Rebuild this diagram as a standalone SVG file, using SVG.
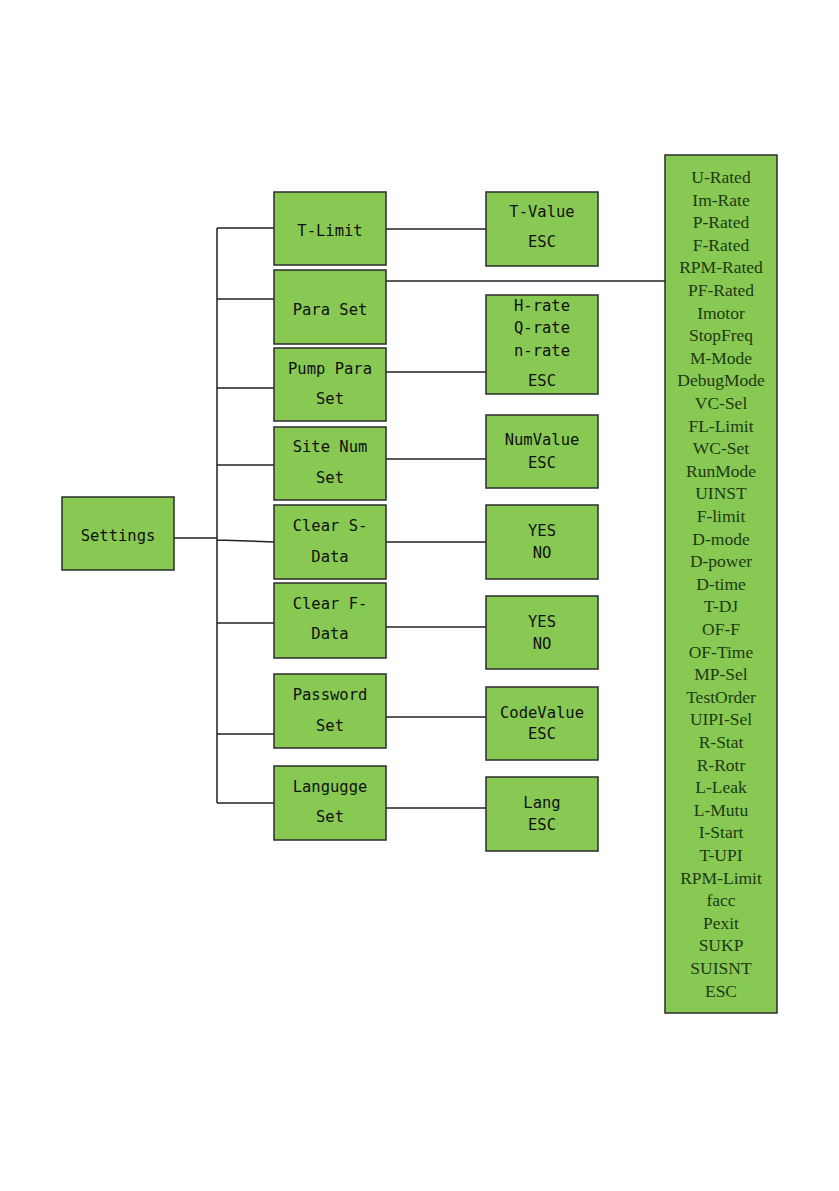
<svg xmlns="http://www.w3.org/2000/svg" width="839" height="1191" viewBox="0 0 839 1191">
<style>
.box{fill:#88c953;stroke:#2b2b2b;stroke-width:1.5}
.t{font-family:"DejaVu Sans Mono","Liberation Mono",monospace;font-size:15.5px;fill:#111;text-anchor:middle;dominant-baseline:central}
.s{font-family:"Liberation Serif","DejaVu Serif",serif;font-size:17.5px;fill:#1e3a12;text-anchor:middle;dominant-baseline:central}
.c{stroke:#222;stroke-width:1.5;fill:none}
</style>
<rect width="839" height="1191" fill="#fff"/>
<g id="connectors">
<path class="c" d="M174 538H217M217 228V803M217 228H274M217 299H274M217 388H274M217 465H274M217 540L274 542M217 623H274M217 734H274M217 803H274"/>
<path class="c" d="M386 229H486M386 281H665M386 372H486M386 459H486M386 542H486M386 627H486M386 717H486M386 808H486"/>
</g>
<g id="settings"><rect class="box" x="62" y="497" width="112" height="73"/><text class="t" x="118" y="536">Settings</text></g>
<g id="t-limit"><rect class="box" x="274" y="192" width="112" height="73"/><text class="t" x="330" y="231">T-Limit</text></g>
<g id="para-set"><rect class="box" x="274" y="270" width="112" height="74"/><text class="t" x="330" y="310">Para Set</text></g>
<g id="pump-para-set"><rect class="box" x="274" y="348" width="112" height="73"/><text class="t" x="330" y="369">Pump Para</text><text class="t" x="330" y="399">Set</text></g>
<g id="site-num-set"><rect class="box" x="274" y="427" width="112" height="73"/><text class="t" x="330" y="447">Site Num</text><text class="t" x="330" y="478">Set</text></g>
<g id="clear-s-data"><rect class="box" x="274" y="505" width="112" height="74"/><text class="t" x="330" y="526">Clear S-</text><text class="t" x="330" y="557">Data</text></g>
<g id="clear-f-data"><rect class="box" x="274" y="583" width="112" height="75"/><text class="t" x="330" y="604">Clear F-</text><text class="t" x="330" y="634">Data</text></g>
<g id="password-set"><rect class="box" x="274" y="674" width="112" height="74"/><text class="t" x="330" y="695">Password</text><text class="t" x="330" y="726">Set</text></g>
<g id="langugge-set"><rect class="box" x="274" y="766" width="112" height="74"/><text class="t" x="330" y="787">Langugge</text><text class="t" x="330" y="817">Set</text></g>
<g id="t-value"><rect class="box" x="486" y="192" width="112" height="74"/><text class="t" x="542" y="212">T-Value</text><text class="t" x="542" y="242">ESC</text></g>
<g id="rates"><rect class="box" x="486" y="295" width="112" height="99"/><text class="t" x="542" y="306">H-rate</text><text class="t" x="542" y="328">Q-rate</text><text class="t" x="542" y="351">n-rate</text><text class="t" x="542" y="381">ESC</text></g>
<g id="numvalue"><rect class="box" x="486" y="415" width="112" height="73"/><text class="t" x="542" y="440">NumValue</text><text class="t" x="542" y="463">ESC</text></g>
<g id="yes-no-s"><rect class="box" x="486" y="505" width="112" height="74"/><text class="t" x="542" y="531">YES</text><text class="t" x="542" y="553">NO</text></g>
<g id="yes-no-f"><rect class="box" x="486" y="596" width="112" height="73"/><text class="t" x="542" y="622">YES</text><text class="t" x="542" y="644">NO</text></g>
<g id="codevalue"><rect class="box" x="486" y="687" width="112" height="73"/><text class="t" x="542" y="713">CodeValue</text><text class="t" x="542" y="734">ESC</text></g>
<g id="lang"><rect class="box" x="486" y="777" width="112" height="74"/><text class="t" x="542" y="803">Lang</text><text class="t" x="542" y="825">ESC</text></g>
<g id="para-list"><rect class="box" x="665" y="155" width="112" height="858"/>
<text class="s" x="721" y="177">U-Rated</text>
<text class="s" x="721" y="199.6">Im-Rate</text>
<text class="s" x="721" y="222.2">P-Rated</text>
<text class="s" x="721" y="244.8">F-Rated</text>
<text class="s" x="721" y="267.4">RPM-Rated</text>
<text class="s" x="721" y="290">PF-Rated</text>
<text class="s" x="721" y="312.6">Imotor</text>
<text class="s" x="721" y="335.2">StopFreq</text>
<text class="s" x="721" y="357.8">M-Mode</text>
<text class="s" x="721" y="380.4">DebugMode</text>
<text class="s" x="721" y="403">VC-Sel</text>
<text class="s" x="721" y="425.6">FL-Limit</text>
<text class="s" x="721" y="448.2">WC-Set</text>
<text class="s" x="721" y="470.8">RunMode</text>
<text class="s" x="721" y="493.4">UINST</text>
<text class="s" x="721" y="516">F-limit</text>
<text class="s" x="721" y="538.6">D-mode</text>
<text class="s" x="721" y="561.2">D-power</text>
<text class="s" x="721" y="583.8">D-time</text>
<text class="s" x="721" y="606.4">T-DJ</text>
<text class="s" x="721" y="629">OF-F</text>
<text class="s" x="721" y="651.6">OF-Time</text>
<text class="s" x="721" y="674.2">MP-Sel</text>
<text class="s" x="721" y="696.8">TestOrder</text>
<text class="s" x="721" y="719.4">UIPI-Sel</text>
<text class="s" x="721" y="742">R-Stat</text>
<text class="s" x="721" y="764.6">R-Rotr</text>
<text class="s" x="721" y="787.2">L-Leak</text>
<text class="s" x="721" y="809.8">L-Mutu</text>
<text class="s" x="721" y="832.4">I-Start</text>
<text class="s" x="721" y="855">T-UPI</text>
<text class="s" x="721" y="877.6">RPM-Limit</text>
<text class="s" x="721" y="900.2">facc</text>
<text class="s" x="721" y="922.8">Pexit</text>
<text class="s" x="721" y="945.4">SUKP</text>
<text class="s" x="721" y="968">SUISNT</text>
<text class="s" x="721" y="990.6">ESC</text>
</g>
</svg>
